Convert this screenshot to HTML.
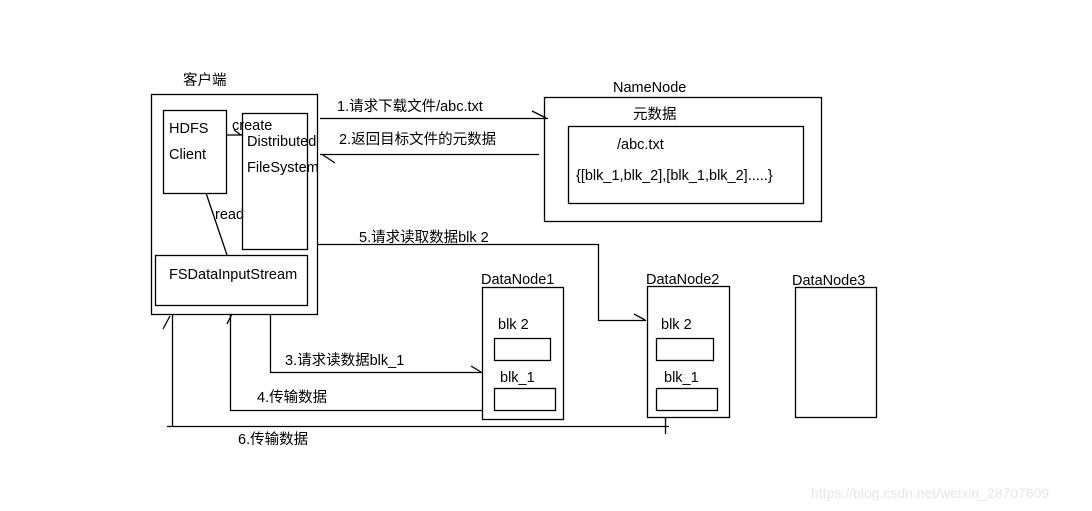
<!DOCTYPE html>
<html><head><meta charset="utf-8"><style>
html,body{margin:0;padding:0;background:#fff;}
svg{display:block;}
text{font-family:"Liberation Sans","Noto Sans CJK SC",sans-serif;font-size:14.5px;fill:#000;}
</style></head><body>
<svg width="1092" height="511" viewBox="0 0 1092 511" xmlns="http://www.w3.org/2000/svg">
<g fill="none" stroke="#000" stroke-width="1.3">
<rect x="151.5" y="94.5" width="166" height="220"/>
<rect x="163.5" y="110.5" width="63" height="83"/>
<rect x="242.5" y="113.5" width="65" height="136"/>
<rect x="155.5" y="255.5" width="152" height="50"/>
<rect x="544.5" y="97.5" width="277" height="124"/>
<rect x="568.5" y="126.5" width="235" height="77"/>
<rect x="482.5" y="287.5" width="81" height="132"/>
<rect x="494.5" y="338.5" width="56" height="22"/>
<rect x="494.5" y="388.5" width="61" height="22"/>
<rect x="647.5" y="286.5" width="82" height="131"/>
<rect x="656.5" y="338.5" width="57" height="22"/>
<rect x="656.5" y="388.5" width="61" height="22"/>
<rect x="795.5" y="287.5" width="81" height="130"/>
<polyline points="226,135 242,135"/>
<polyline points="234,130 241,135"/>
<line x1="206" y1="193" x2="227" y2="255"/>
<line x1="320" y1="118.5" x2="548" y2="118.5"/>
<line x1="532" y1="111" x2="546" y2="118"/>
<line x1="539" y1="154.5" x2="320" y2="154.5"/>
<line x1="323" y1="155" x2="335" y2="163"/>
<polyline points="317,244.5 598.5,244.5 598.5,320.5 646,320.5"/>
<line x1="634" y1="314" x2="645" y2="320"/>
<polyline points="270.5,314 270.5,372.5 482,372.5"/>
<line x1="471" y1="366" x2="481" y2="372"/>
<polyline points="482,410.5 230.5,410.5 230.5,314"/>
<line x1="227" y1="324" x2="232" y2="314"/>
<polyline points="167,426.5 669,426.5"/>
<line x1="172.5" y1="426" x2="172.5" y2="314"/>
<line x1="163" y1="329" x2="170" y2="316"/>
<line x1="665.5" y1="417" x2="665.5" y2="434"/>
</g>
<text x="183" y="85">客户端</text>
<text x="337" y="111">1.请求下载文件/abc.txt</text>
<text x="339" y="144">2.返回目标文件的元数据</text>
<text x="613" y="92">NameNode</text>
<text x="633" y="119">元数据</text>
<text x="617" y="149">/abc.txt</text>
<text x="576" y="180">{[blk_1,blk_2],[blk_1,blk_2].....}</text>
<text x="169" y="133">HDFS</text>
<text x="169" y="159">Client</text>
<text x="232" y="130">create</text>
<text x="247" y="146">Distributed</text>
<text x="247" y="172">FileSystem</text>
<text x="215" y="219">read</text>
<text x="169" y="279">FSDataInputStream</text>
<text x="359" y="242">5.请求读取数据blk  2</text>
<text x="481" y="284">DataNode1</text>
<text x="646" y="284">DataNode2</text>
<text x="792" y="285">DataNode3</text>
<text x="498" y="329">blk  2</text>
<text x="500" y="382">blk_1</text>
<text x="661" y="329">blk  2</text>
<text x="664" y="382">blk_1</text>
<text x="285" y="365">3.请求读数据blk_1</text>
<text x="257" y="402">4.传输数据</text>
<text x="238" y="444">6.传输数据</text>
<text x="811" y="498" style="fill:#e6e6e6;font-size:14px">https://blog.csdn.net/weixin_28707609</text>
</svg>
</body></html>
